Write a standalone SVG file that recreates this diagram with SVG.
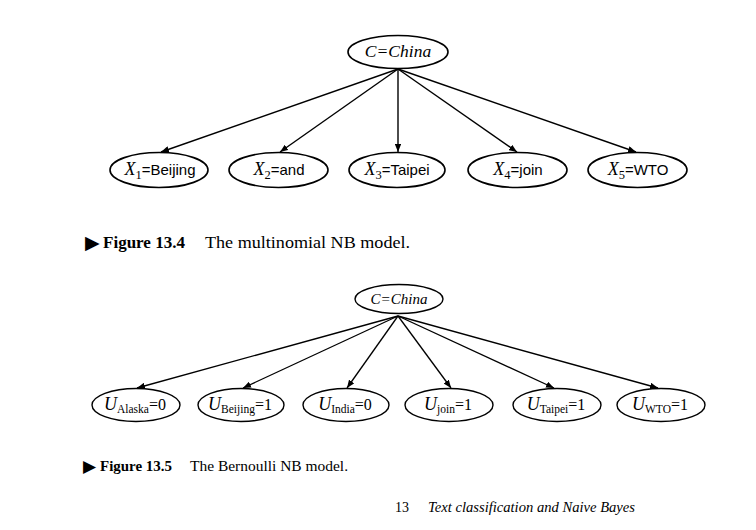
<svg xmlns="http://www.w3.org/2000/svg" width="756" height="530" viewBox="0 0 756 530">
<defs>
<marker id="ah" viewBox="0 0 10 8" refX="10" refY="4" markerWidth="8" markerHeight="6.4" markerUnits="userSpaceOnUse" orient="auto">
<path d="M0,0 L10,4 L0,8 z" fill="#000"/>
</marker>
</defs>
<style>
.node { fill: #fff; stroke: #000; stroke-width: 1.6; }
.node2 { fill: #fff; stroke: #000; stroke-width: 1.4; }
.edge { stroke: #000; stroke-width: 1.4; fill: none; marker-end: url(#ah); }
.edge2 { stroke: #000; stroke-width: 1.3; fill: none; marker-end: url(#ah); }
.lbl { font-family: "Liberation Sans", Arial, sans-serif; font-size: 15px; fill: #000; text-anchor: middle; }
.mi { font-family: "Liberation Serif", "Times New Roman", serif; font-style: italic; font-size: 18px; }
.sub { font-family: "Liberation Serif", "Times New Roman", serif; font-size: 12.5px; }
.lbl2 { font-family: "Liberation Serif", "Times New Roman", serif; font-size: 16px; fill: #000; text-anchor: middle; }
.sub2 { font-size: 11.5px; }
.cap { font-family: "Liberation Serif", "Times New Roman", serif; fill: #000; }
.tri { font-family: "DejaVu Sans", sans-serif; fill: #000; }
</style>

<!-- Figure 13.4 -->
<g id="connectors1">
<line class="edge" x1="398" y1="69" x2="161" y2="152"/>
<line class="edge" x1="398" y1="69" x2="280" y2="152"/>
<line class="edge" x1="398" y1="69" x2="398" y2="152"/>
<line class="edge" x1="398" y1="69" x2="517" y2="152"/>
<line class="edge" x1="398" y1="69" x2="636" y2="152"/>
</g>
<g id="C1">
<ellipse class="node" cx="398" cy="52" rx="50" ry="16.5"/>
<text x="398" y="57" class="lbl2 mi" style="font-size:17.5px">C=China</text>
</g>
<g id="X1">
<ellipse class="node" cx="159" cy="170" rx="49" ry="17.5"/>
<text x="160" y="175" class="lbl"><tspan class="mi">X</tspan><tspan class="sub" dy="4">1</tspan><tspan dy="-4">=Beijing</tspan></text>
</g>
<g id="X2">
<ellipse class="node" cx="278.5" cy="170" rx="49.5" ry="17.5"/>
<text x="279" y="175" class="lbl"><tspan class="mi">X</tspan><tspan class="sub" dy="4">2</tspan><tspan dy="-4">=and</tspan></text>
</g>
<g id="X3">
<ellipse class="node" cx="397" cy="170" rx="48" ry="17.5"/>
<text x="397" y="175" class="lbl"><tspan class="mi">X</tspan><tspan class="sub" dy="4">3</tspan><tspan dy="-4">=Taipei</tspan></text>
</g>
<g id="X4">
<ellipse class="node" cx="517.5" cy="170" rx="49.5" ry="17.5"/>
<text x="518" y="175" class="lbl"><tspan class="mi">X</tspan><tspan class="sub" dy="4">4</tspan><tspan dy="-4">=join</tspan></text>
</g>
<g id="X5">
<ellipse class="node" cx="637.5" cy="170" rx="49.5" ry="17.5"/>
<text x="638" y="175" class="lbl"><tspan class="mi">X</tspan><tspan class="sub" dy="4">5</tspan><tspan dy="-4">=WTO</tspan></text>
</g>

<g id="caption1">
<text x="85" y="249" class="tri" font-size="19">▶</text>
<text x="103" y="248" class="cap" font-size="17" font-weight="bold" textLength="82" lengthAdjust="spacingAndGlyphs">Figure 13.4</text>
<text x="205" y="248" class="cap" font-size="16" textLength="205" lengthAdjust="spacingAndGlyphs">The multinomial NB model.</text>
</g>

<!-- Figure 13.5 -->
<g id="connectors2">
<line class="edge2" x1="398" y1="316" x2="137" y2="388"/>
<line class="edge2" x1="398" y1="316" x2="243" y2="388"/>
<line class="edge2" x1="398" y1="316" x2="347" y2="388"/>
<line class="edge2" x1="398" y1="316" x2="451" y2="388"/>
<line class="edge2" x1="398" y1="316" x2="554" y2="388"/>
<line class="edge2" x1="398" y1="316" x2="658" y2="388"/>
</g>
<g id="C2">
<ellipse class="node2" cx="399" cy="299" rx="44" ry="14.5"/>
<text x="399" y="304" class="lbl2 mi" style="font-size:15px">C=China</text>
</g>
<g id="U1">
<ellipse class="node2" cx="136" cy="405" rx="44" ry="16.5"/>
<text x="135" y="410" class="lbl2"><tspan class="mi">U</tspan><tspan class="sub2" dy="3">Alaska</tspan><tspan dy="-3">=0</tspan></text>
</g>
<g id="U2">
<ellipse class="node2" cx="241" cy="405" rx="43" ry="16.5"/>
<text x="240" y="410" class="lbl2"><tspan class="mi">U</tspan><tspan class="sub2" dy="3">Beijing</tspan><tspan dy="-3">=1</tspan></text>
</g>
<g id="U3">
<ellipse class="node2" cx="346" cy="405" rx="43" ry="16.5"/>
<text x="345" y="410" class="lbl2"><tspan class="mi">U</tspan><tspan class="sub2" dy="3">India</tspan><tspan dy="-3">=0</tspan></text>
</g>
<g id="U4">
<ellipse class="node2" cx="449" cy="405" rx="44" ry="16.5"/>
<text x="448" y="410" class="lbl2"><tspan class="mi">U</tspan><tspan class="sub2" dy="3">join</tspan><tspan dy="-3">=1</tspan></text>
</g>
<g id="U5">
<ellipse class="node2" cx="557" cy="405" rx="44" ry="16.5"/>
<text x="556" y="410" class="lbl2"><tspan class="mi">U</tspan><tspan class="sub2" dy="3">Taipei</tspan><tspan dy="-3">=1</tspan></text>
</g>
<g id="U6">
<ellipse class="node2" cx="661" cy="405" rx="44" ry="16.5"/>
<text x="660" y="410" class="lbl2"><tspan class="mi">U</tspan><tspan class="sub2" dy="3">WTO</tspan><tspan dy="-3">=1</tspan></text>
</g>

<g id="caption2">
<text x="83" y="472" class="tri" font-size="17">▶</text>
<text x="100" y="471" class="cap" font-size="15" font-weight="bold" textLength="72" lengthAdjust="spacingAndGlyphs">Figure 13.5</text>
<text x="190" y="471" class="cap" font-size="14.5" textLength="158" lengthAdjust="spacingAndGlyphs">The Bernoulli NB model.</text>
</g>

<g id="footer">
<text x="395" y="512" class="cap" font-size="14">13</text>
<text x="428" y="512" class="cap" font-size="14.5" font-style="italic" textLength="207" lengthAdjust="spacingAndGlyphs">Text classification and Naive Bayes</text>
</g>
</svg>
